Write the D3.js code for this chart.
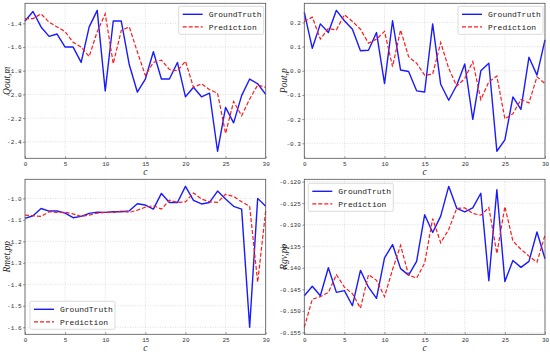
<!DOCTYPE html>
<html>
<head>
<meta charset="utf-8">
<script src="https://cdn.jsdelivr.net/npm/d3@7"></script>
<style>
	body { margin: 0; background: #fff; }
	svg { display: block; }
	.grid line { stroke: #c8c8c8; stroke-dasharray: 1,1.5; stroke-width: 0.6; }
	.tick text { font-family: "Liberation Mono", monospace; font-size: 6px; fill: #333; }
	.axis-label { font-family: "Liberation Serif", serif; font-style: italic; font-size: 9.5px; fill: #222; }
	.legend text { font-family: "Liberation Mono", monospace; font-size: 8px; fill: #222; }
</style>
</head>
<body>
<div id="chart"></div>
<script>
// x values (c)
const cycles = d3.range(0, 31);
const xTickValues = [0, 5, 10, 15, 20, 25, 30];

// Qout,m
const qoutTruth = [-1.38, -1.30, -1.43, -1.51, -1.49, -1.60, -1.60, -1.73, -1.43, -1.29, -1.97, -1.38, -1.38, -1.75, -1.98, -1.87, -1.64, -1.87, -1.87, -1.73, -2.02, -1.94, -2.02, -1.99, -2.48, -2.11, -2.24, -2.01, -1.87, -1.91, -2.00];
const qoutPred = [-1.36, -1.36, -1.32, -1.39, -1.43, -1.47, -1.56, -1.60, -1.68, -1.47, -1.32, -1.74, -1.46, -1.43, -1.64, -1.84, -1.73, -1.71, -1.79, -1.80, -1.72, -1.94, -1.91, -1.96, -1.99, -2.33, -2.06, -2.18, -2.04, -1.92, -1.94];
const qoutTicks = [-1.4, -1.6, -1.8, -2.0, -2.2, -2.4];

// Pout,p
const poutTruth = [0.242, 0.093, 0.194, 0.158, 0.250, 0.207, 0.172, 0.083, 0.085, 0.158, -0.053, 0.207, 0.003, -0.003, -0.083, -0.088, 0.194, -0.056, -0.122, -0.060, 0.028, -0.201, 0.000, 0.031, -0.333, -0.286, -0.108, -0.160, 0.056, -0.018, 0.128];
const poutPred = [0.204, 0.222, 0.131, 0.175, 0.169, 0.232, 0.204, 0.172, 0.114, 0.131, 0.163, 0.017, 0.169, 0.058, 0.031, -0.018, -0.014, 0.117, 0.010, -0.064, -0.032, 0.038, -0.119, -0.046, -0.022, -0.199, -0.178, -0.119, -0.133, -0.025, -0.053];
const poutTicks = [0.2, 0.1, 0.0, -0.1, -0.2, -0.3];

// Rmet,pp
const rmetTruth = [-1.093, -1.081, -1.047, -1.059, -1.059, -1.069, -1.090, -1.084, -1.070, -1.064, -1.065, -1.062, -1.062, -1.058, -1.025, -1.031, -1.050, -0.977, -1.019, -1.019, -0.944, -1.009, -1.026, -1.019, -0.966, -1.003, -1.037, -1.050, -1.600, -1.000, -1.037];
const rmetPred = [-1.078, -1.081, -1.084, -1.062, -1.065, -1.065, -1.072, -1.084, -1.078, -1.069, -1.065, -1.065, -1.059, -1.065, -1.055, -1.041, -1.034, -1.050, -1.008, -1.019, -1.016, -0.975, -1.003, -1.016, -1.019, -0.981, -0.991, -1.016, -1.037, -1.390, -1.058];
const rmetTicks = [-1.0, -1.1, -1.2, -1.3, -1.4, -1.5, -1.6];

// Rgv,pp
const rgvTruth = [-0.1465, -0.1443, -0.1465, -0.1400, -0.1457, -0.1453, -0.1488, -0.1406, -0.1445, -0.1471, -0.1377, -0.1346, -0.1402, -0.1417, -0.1385, -0.1277, -0.1318, -0.1280, -0.1211, -0.1262, -0.1270, -0.1261, -0.1227, -0.1430, -0.1219, -0.1432, -0.1383, -0.1399, -0.1385, -0.1317, -0.1379];
const rgvPred = [-0.1538, -0.1473, -0.1467, -0.1457, -0.1416, -0.1445, -0.1460, -0.1494, -0.1416, -0.1429, -0.1467, -0.1404, -0.1348, -0.1417, -0.1424, -0.1389, -0.1286, -0.1342, -0.1311, -0.1262, -0.1261, -0.1274, -0.1278, -0.1260, -0.1367, -0.1258, -0.1338, -0.1357, -0.1373, -0.1387, -0.1324];
const rgvTicks = [-0.120, -0.125, -0.130, -0.135, -0.140, -0.145, -0.150, -0.155];

const seriesNames = ['GroundTruth', 'Prediction'];

const panels = [
	{ left: 25, top: 3.3, yLabel: 'Qout,m', truth: qoutTruth, pred: qoutPred, ticks: qoutTicks, fmt: '.1f', legend: 'tr' },
	{ left: 304.3, top: 3.3, yLabel: 'Pout,p', truth: poutTruth, pred: poutPred, ticks: poutTicks, fmt: '.1f', legend: 'tr' },
	{ left: 25, top: 179.3, yLabel: 'Rmet,pp', truth: rmetTruth, pred: rmetPred, ticks: rmetTicks, fmt: '.1f', legend: 'bl' },
	{ left: 304.3, top: 179.3, yLabel: 'Rgv,pp', truth: rgvTruth, pred: rgvPred, ticks: rgvTicks, fmt: '.3f', legend: 'tl' },
];

const panelW = 240.7;
const panelH = 155;

const svg = d3.select('#chart').append('svg').attr('width', 550).attr('height', 352);

for (const p of panels) {
	const g = svg.append('g').attr('transform', `translate(${p.left}, ${p.top})`);

	// x scale
	const xScale = d3.scaleLinear().domain([0, 30]).range([0, panelW]);

	// y scale with 5% padding like matplotlib
	const all = p.truth.concat(p.pred);
	const lo = d3.min(all), hi = d3.max(all);
	const pad = (hi - lo) * 0.05;
	const yScale = d3.scaleLinear().domain([lo - pad, hi + pad]).range([panelH, 0]);

	// grid
	g.append('g').attr('class', 'grid')
		.selectAll('line.v').data(xTickValues).join('line')
		.attr('x1', d => xScale(d)).attr('x2', d => xScale(d))
		.attr('y1', 0).attr('y2', panelH);
	g.append('g').attr('class', 'grid')
		.selectAll('line.h').data(p.ticks).join('line')
		.attr('x1', 0).attr('x2', panelW)
		.attr('y1', d => yScale(d)).attr('y2', d => yScale(d));

	// axes
	const xAxis = d3.axisBottom(xScale).tickValues(xTickValues).tickFormat(d3.format('d')).tickSizeInner(-2).tickSizeOuter(0).tickPadding(1.5);
	const yAxis = d3.axisLeft(yScale).tickValues(p.ticks).tickFormat(d3.format(p.fmt)).tickSizeInner(2).tickSizeOuter(0).tickPadding(1.5);

	const xG = g.append('g').attr('transform', `translate(0, ${panelH})`).call(xAxis);
	const yG = g.append('g').call(yAxis);
	[xG, yG].forEach(a => {
		a.select('.domain').remove();
		a.selectAll('.tick line').attr('stroke', '#555').attr('stroke-width', 0.6);
	});
	xG.selectAll('.tick text').attr('y', 3.5).attr('dy', '0.71em');
	yG.selectAll('.tick text').text(d => d3.format(p.fmt)(d).replace('−', '-'));

	// lines
	const line = d3.line().x((d, i) => xScale(cycles[i])).y(d => yScale(d));
	g.append('path').datum(p.truth).attr('d', line)
		.attr('fill', 'none').attr('stroke', '#1a1aff').attr('stroke-width', 1.4).attr('stroke-linejoin', 'round');
	g.append('path').datum(p.pred).attr('d', line)
		.attr('fill', 'none').attr('stroke', '#ff1a1a').attr('stroke-width', 1.2).attr('stroke-dasharray', '4,2');

	// frame
	g.append('rect').attr('width', panelW).attr('height', panelH)
		.attr('fill', 'none').attr('stroke', '#555').attr('stroke-width', 0.8);

	// axis labels
	g.append('text').attr('class', 'axis-label').attr('text-anchor', 'middle')
		.attr('x', panelW / 2).attr('y', panelH + 16.5).text('c');
	g.append('text').attr('class', 'axis-label').attr('text-anchor', 'middle')
		.attr('transform', 'rotate(-90)')
		.attr('x', -panelH / 2).attr('y', p.left === 25 ? -15 : -17).text(p.yLabel);

	// legend
	const lw = 85, lh = 28;
	let lx, ly;
	if (p.legend === 'tr') { lx = panelW - lw - 2; ly = 3; }
	else if (p.legend === 'tl') { lx = 4; ly = 4; }
	else { lx = 5; ly = panelH - lh - 5; }
	const lg = g.append('g').attr('class', 'legend').attr('transform', `translate(${lx}, ${ly})`);
	lg.append('rect').attr('width', lw).attr('height', lh).attr('rx', 1.5)
		.attr('fill', '#fff').attr('fill-opacity', 0.9).attr('stroke', '#ccc').attr('stroke-width', 0.7);
	seriesNames.forEach((name, i) => {
		const yy = 8 + i * 12.5;
		lg.append('line').attr('x1', 4).attr('x2', 24).attr('y1', yy).attr('y2', yy)
			.attr('stroke', i === 0 ? '#1a1aff' : '#ff1a1a')
			.attr('stroke-width', i === 0 ? 1.4 : 1.2)
			.attr('stroke-dasharray', i === 0 ? null : '4,2');
		lg.append('text').attr('x', 30).attr('y', yy).attr('dy', '0.35em').text(name);
	});
}
</script>
</body>
</html>
